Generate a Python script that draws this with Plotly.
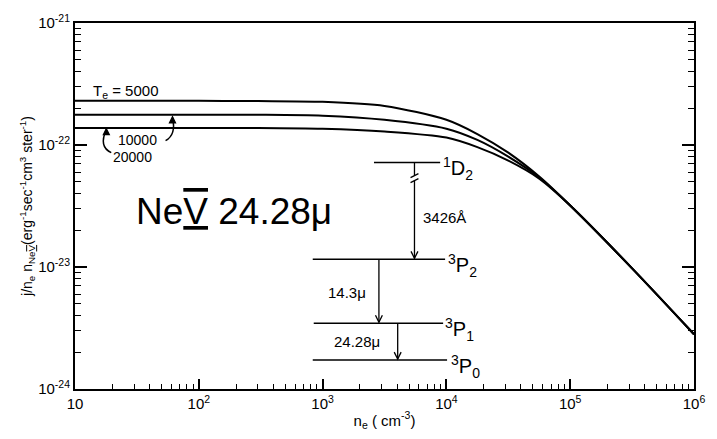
import plotly.graph_objects as go

# Electron density (cm^-3) and Ne V 24.28 micron emissivity per ion per electron
n_e = [10, 100, 300, 1000, 3162, 10000, 17780, 31620, 56230, 100000, 316200, 1000000]
emis_5000 = [2.30e-22, 2.30e-22, 2.29e-22, 2.26e-22, 2.09e-22, 1.61e-22, 1.23e-22,
             8.65e-23, 5.51e-23, 3.19e-23, 9.75e-24, 2.81e-24]
emis_10000 = [1.77e-22, 1.77e-22, 1.77e-22, 1.74e-22, 1.61e-22, 1.36e-22, 1.10e-22,
              8.02e-23, 5.41e-23, 3.19e-23, 9.75e-24, 2.81e-24]
emis_20000 = [1.38e-22, 1.38e-22, 1.38e-22, 1.36e-22, 1.29e-22, 1.15e-22, 9.60e-23,
              7.45e-23, 5.30e-23, 3.19e-23, 9.75e-24, 2.81e-24]

x_ticks = [10, 1e2, 1e3, 1e4, 1e5, 1e6]
x_ticktext = ["10", "10<sup>2</sup>", "10<sup>3</sup>", "10<sup>4</sup>", "10<sup>5</sup>", "10<sup>6</sup>"]
y_ticks = [1e-24, 1e-23, 1e-22, 1e-21]
y_ticktext = ["10<sup>-24</sup>", "10<sup>-23</sup>", "10<sup>-22</sup>", "10<sup>-21</sup>"]

FONT = "Liberation Sans, DejaVu Sans, Arial, sans-serif"
# Roman numeral five drawn with bars above and below
ROMAN_V = "<span style=\"text-decoration:overline underline\">V</span>"

fig = go.Figure()
for ys in (emis_5000, emis_10000, emis_20000):
    fig.add_trace(go.Scatter(x=n_e, y=ys, mode="lines",
                             line=dict(color="black", width=2, shape="spline", smoothing=0.8),
                             showlegend=False, hoverinfo="skip"))

# plot-area frame in pixels, used to place the level diagram in paper units
L, R, T, B = 75.3, 702.0, 23.0, 390.0


def fx(px):
    return (px - L) / (R - L)


def fy(py):
    return (B - py) / (B - T)


shapes = []


def seg(x0, y0, x1, y1, w=1.5):
    shapes.append(dict(type="line", xref="paper", yref="paper",
                       x0=fx(x0), y0=fy(y0), x1=fx(x1), y1=fy(y1),
                       line=dict(color="black", width=w)))


def path(pts, w=1.5, closed=False, fill=None):
    d = "M " + " L ".join(f"{fx(a):.5f},{fy(b):.5f}" for a, b in pts)
    if closed:
        d += " Z"
    shapes.append(dict(type="path", xref="paper", yref="paper", path=d,
                       line=dict(color="black", width=w),
                       fillcolor=fill if fill else "rgba(0,0,0,0)"))


def curve(p0, c, p1, w=1.5):
    d = (f"M {fx(p0[0]):.5f},{fy(p0[1]):.5f} Q {fx(c[0]):.5f},{fy(c[1]):.5f} "
         f"{fx(p1[0]):.5f},{fy(p1[1]):.5f}")
    shapes.append(dict(type="path", xref="paper", yref="paper", path=d,
                       line=dict(color="black", width=w)))


def head_down(x, y):
    path([(x - 3.5, y - 7), (x, y), (x + 3.5, y - 7)], w=1.3)


def head_up(x, y):
    path([(x - 3, y + 6), (x, y), (x + 3, y + 6)], w=1.3, closed=True, fill="black")


# energy levels
seg(378, 163, 445, 163)
seg(316, 260, 450, 260)
seg(317, 324, 448, 324)
seg(316, 361, 452, 361)

# 1D2 -> 3P2 transition with a broken-axis mark
seg(419, 163, 419, 176, w=1.3)
seg(419, 181, 419, 259, w=1.3)
seg(415, 178, 423, 174, w=1.3)
seg(415, 183, 423, 179, w=1.3)
head_down(419, 259)

# fine-structure transitions
seg(383, 260, 383, 323, w=1.3)
head_down(383, 323)
seg(402, 324, 402, 360, w=1.3)
head_down(402, 360)

# curved pointers from the temperature labels
curve((167, 141), (178, 135), (174, 118))
head_up(174, 117)
curve((112, 153), (99, 147), (107, 130))
head_up(107, 129)

annotations = []


def label(px, py, text, size, xanchor="left", yanchor="middle", **kw):
    annotations.append(dict(xref="paper", yref="paper", x=fx(px), y=fy(py),
                            text=text, showarrow=False, xanchor=xanchor, yanchor=yanchor,
                            font=dict(family=FONT, size=size, color="black"), **kw))


label(91, 92, "T<sub>e</sub> = 5000", 15)
label(117, 140, "10000", 14)
label(112, 157, "20000", 14)
label(135, 212, "Ne" + ROMAN_V + " 24.28\u03bc", 37)
label(446, 169, "<sup>1</sup>D<sub>2</sub>", 20)
label(451, 266, "<sup>3</sup>P<sub>2</sub>", 20)
label(448, 330, "<sup>3</sup>P<sub>1</sub>", 20)
label(454, 367, "<sup>3</sup>P<sub>0</sub>", 20)
label(426, 218, "3426\u00c5", 15)
label(329, 293, "14.3\u03bc", 15)
label(336, 342, "24.28\u03bc", 15)

minor_x = [k * 10 ** d for d in range(1, 6) for k in range(2, 10)]
minor_y = [k * 10.0 ** d for d in range(-24, -21) for k in range(2, 10)]

y_title = ("j/n<sub>e</sub> n<sub>Ne" + ROMAN_V + "</sub>(erg<sup>-1</sup>sec<sup>-1</sup>"
           "cm<sup>3</sup> ster<sup>-1</sup>)")

fig.update_layout(
    width=717, height=439,
    margin=dict(l=75, r=15, t=23, b=49),
    paper_bgcolor="white", plot_bgcolor="white",
    font=dict(family=FONT, size=15, color="black"),
    shapes=shapes, annotations=annotations,
    xaxis=dict(type="log", range=[1, 6], showgrid=False, zeroline=False,
               showline=True, linecolor="black", linewidth=2, mirror=True,
               ticks="inside", ticklen=10, tickwidth=1.5, tickcolor="black",
               tickvals=x_ticks, ticktext=x_ticktext, tickfont=dict(size=15),
               minor=dict(tickvals=minor_x, ticks="inside", ticklen=5, tickwidth=1.2,
                          tickcolor="black", showgrid=False),
               title=dict(text="n<sub>e</sub> ( cm<sup>-3</sup>)", font=dict(size=15), standoff=4)),
    yaxis=dict(type="log", range=[-24, -21], showgrid=False, zeroline=False,
               showline=True, linecolor="black", linewidth=2, mirror="ticks",
               ticks="inside", ticklen=12, tickwidth=1.5, tickcolor="black",
               tickvals=y_ticks, ticktext=y_ticktext, tickfont=dict(size=15),
               minor=dict(tickvals=minor_y, ticks="inside", ticklen=6, tickwidth=1.2,
                          tickcolor="black", showgrid=False),
               title=dict(text=y_title, font=dict(size=14), standoff=2)),
)

fig.write_html("out.html")
